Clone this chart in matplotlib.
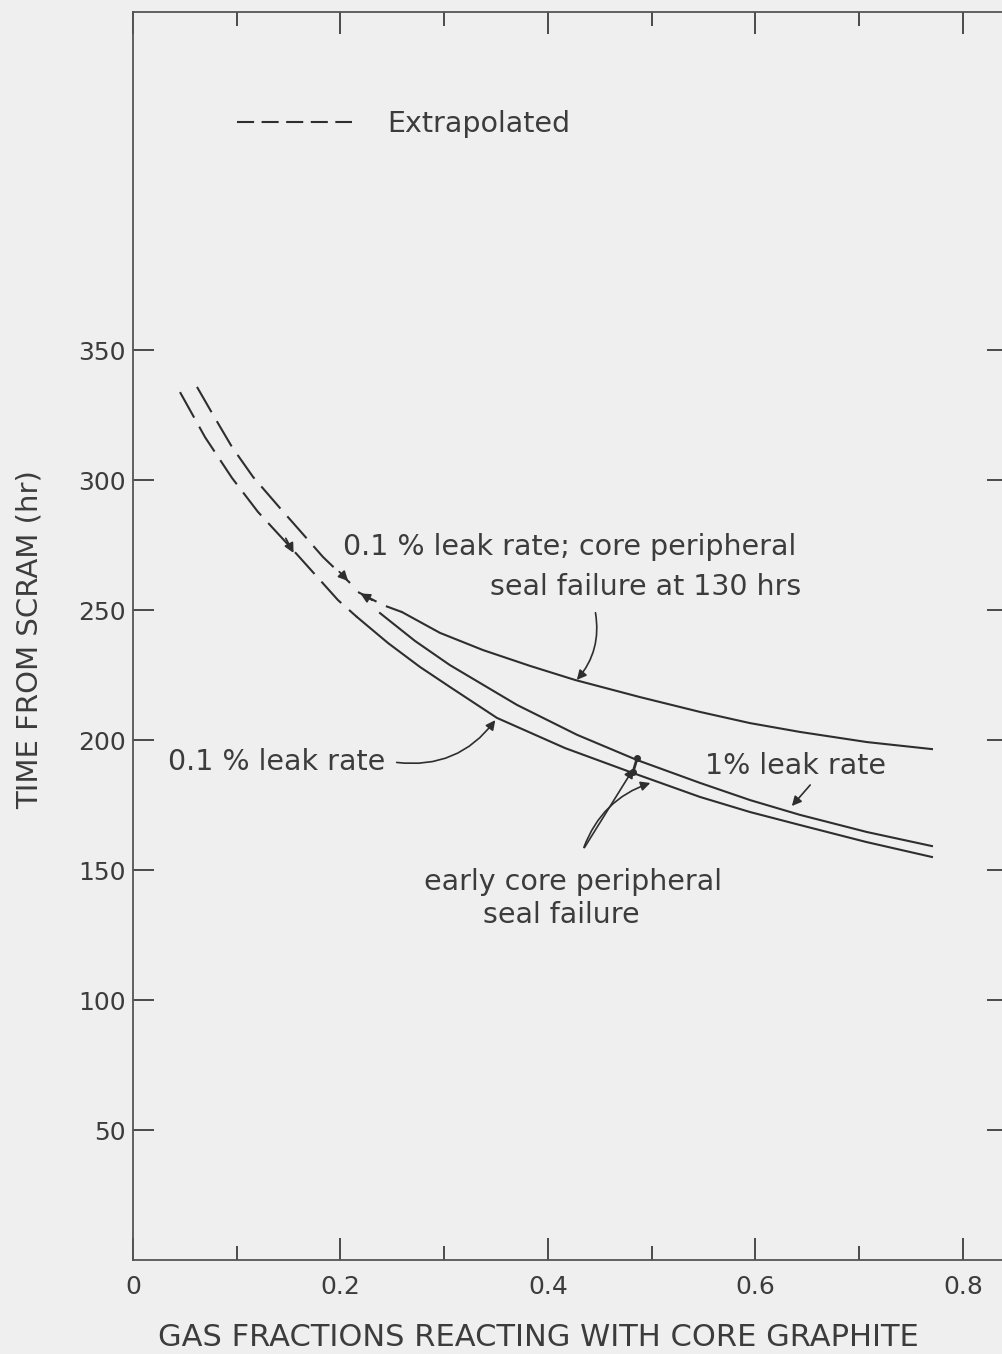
import matplotlib.pyplot as plt
from matplotlib.lines import Line2D

# curve readings (x = gas fraction, y = hours)
x_low_dash = [0.0453, 0.0694, 0.0954, 0.1205, 0.1542, 0.1976, 0.2159]
y_low_dash = [333.8, 316.5, 300.8, 287.7, 273.1, 253.8, 247.3]
x_low = [0.2159, 0.2458, 0.2766, 0.3055, 0.3508, 0.4164, 0.4819, 0.5465,
         0.5947, 0.6429, 0.7065, 0.7701]
y_low = [247.3, 237.3, 228.1, 220.4, 208.5, 196.9, 187.3, 178.1,
         172.3, 167.3, 160.8, 155.0]

x_mid_dash = [0.0617, 0.0761, 0.0954, 0.1157, 0.1417, 0.1629, 0.1831, 0.2092]
y_mid_dash = [335.8, 325.8, 312.7, 301.2, 289.2, 279.6, 270.4, 260.4]
x_mid = [0.2381, 0.2718, 0.3055, 0.3701, 0.4280, 0.4858, 0.5465, 0.5947,
         0.6429, 0.7075, 0.7701]
y_mid = [248.8, 238.1, 228.8, 213.5, 202.0, 192.3, 183.5, 176.9,
         171.2, 164.6, 159.2]

x_up_dash = [0.2169, 0.2410, 0.2593]
y_up_dash = [256.9, 251.9, 249.2]
x_up = [0.2593, 0.2959, 0.3373, 0.3827, 0.4260, 0.4887, 0.5465, 0.5947,
        0.6429, 0.7075, 0.7701]
y_up = [249.2, 241.2, 234.6, 228.5, 223.1, 216.5, 210.8, 206.5,
        203.1, 199.2, 196.5]

# seal failure marks
x_seal = [0.486, 0.482]
y_seal = [193.1, 187.7]

xticks = [0, 0.2, 0.4, 0.6, 0.8]
xtick_labels = ["0", "0.2", "0.4", "0.6", "0.8"]
xminor = [0.1, 0.3, 0.5, 0.7]
yticks = [50, 100, 150, 200, 250, 300, 350]

ink = "#2e2e2e"
txt = "#3c3c3c"
bg = "#efefef"

plt.rcParams["font.family"] = ["DejaVu Sans"]

fig = plt.figure(figsize=(10.03, 13.54), dpi=100, facecolor=bg)
ax = fig.add_axes([133 / 1003, 94 / 1354, 875 / 1003, 1248 / 1354])
ax.set_facecolor(bg)
ax.set_xlim(0, 0.8434)
ax.set_ylim(0, 480)

dash = (0, (14, 5))
ax.plot(x_low_dash, y_low_dash, color=ink, lw=1.5, ls=dash)
ax.plot(x_low, y_low, color=ink, lw=1.5)
ax.plot(x_mid_dash, y_mid_dash, color=ink, lw=1.5, ls=dash)
ax.plot(x_mid, y_mid, color=ink, lw=1.5)
ax.plot(x_up_dash, y_up_dash, color=ink, lw=1.5, ls=(0, (10, 5)))
ax.plot(x_up, y_up, color=ink, lw=1.5)
ax.plot(x_seal, y_seal, color=ink, lw=2, marker="o", ms=4)

# small arrowheads in the extrapolated region
ap = dict(arrowstyle="-|>", color=ink, lw=1.3, mutation_scale=14)
ax.annotate("", xy=(0.156, 271.0), xytext=(0.146, 278.5), arrowprops=ap)
ax.annotate("", xy=(0.2092, 260.4), xytext=(0.197, 265.5), arrowprops=ap)
ax.annotate("", xy=(0.2169, 256.9), xytext=(0.233, 253.2), arrowprops=ap)

# labels and their arrows
fs = 20.5
ax.text(0.2024, 274.2, "0.1 % leak rate; core peripheral", fontsize=fs, color=txt, va="center")
ax.text(0.344, 258.8, "seal failure at 130 hrs", fontsize=fs, color=txt, va="center")
ax.text(0.0337, 191.5, "0.1 % leak rate", fontsize=fs, color=txt, va="center")
ax.text(0.551, 190.0, "1% leak rate", fontsize=fs, color=txt, va="center")
ax.text(0.4245, 145.4, "early core peripheral", fontsize=fs, color=txt, va="center", ha="center")
ax.text(0.4125, 132.7, "seal failure", fontsize=fs, color=txt, va="center", ha="center")

ap2 = dict(arrowstyle="-|>", color=ink, lw=1.2, mutation_scale=14)
ax.annotate("", xy=(0.426, 222.3), xytext=(0.4453, 250.0),
            arrowprops=dict(ap2, connectionstyle="arc3,rad=-0.25"))
ax.annotate("", xy=(0.3508, 208.5), xytext=(0.2515, 191.5),
            arrowprops=dict(ap2, connectionstyle="arc3,rad=0.3"))
ax.annotate("", xy=(0.6333, 173.8), xytext=(0.6545, 183.5), arrowprops=ap2)
ax.annotate("", xy=(0.484, 190.0), xytext=(0.4337, 157.7), arrowprops=ap2)
ax.annotate("", xy=(0.5012, 183.8), xytext=(0.4337, 157.7),
            arrowprops=dict(ap2, connectionstyle="arc3,rad=-0.25"))

handle = Line2D([], [], color=ink, lw=1.5, ls=(0, (8.2, 3.6)))
ax.legend([handle], ["Extrapolated"], loc="center left", bbox_to_anchor=(0.1, 437),
          bbox_transform=ax.transData, frameon=False, fontsize=fs,
          handlelength=115 / 1.389 / fs, handletextpad=36 / 1.389 / fs,
          borderpad=0, borderaxespad=0, labelcolor=txt)

ax.set_xticks(xticks)
ax.set_xticklabels(xtick_labels)
ax.set_xticks(xminor, minor=True)
ax.set_yticks(yticks)
ax.tick_params(axis="x", which="major", direction="in", length=16, width=1.2,
               top=True, colors=ink, labelcolor=txt, labelsize=18, pad=11)
ax.tick_params(axis="x", which="minor", direction="in", length=10, width=1.2,
               top=True, colors=ink)
ax.tick_params(axis="y", direction="in", length=15, width=1.2, right=True,
               colors=ink, labelcolor=txt, labelsize=18, pad=5)

for s in ax.spines.values():
    s.set_color("#555555")
    s.set_linewidth(1.3)

ax.set_xlabel("GAS FRACTIONS REACTING WITH CORE GRAPHITE", fontsize=22, color=txt)
ax.xaxis.set_label_coords(538 / 1003 * 1003 / 875 - 133 / 875, -(1337 - 1260) / 1248)
ax.set_ylabel("TIME FROM SCRAM (hr)", fontsize=21, color=txt)
ax.yaxis.set_label_coords(-(133 - 30) / 875, (1260 - 640) / 1248)
ax.xaxis.label.set_verticalalignment("center")
ax.yaxis.label.set_verticalalignment("center")

fig.savefig("out.png", dpi=100, facecolor=bg)
